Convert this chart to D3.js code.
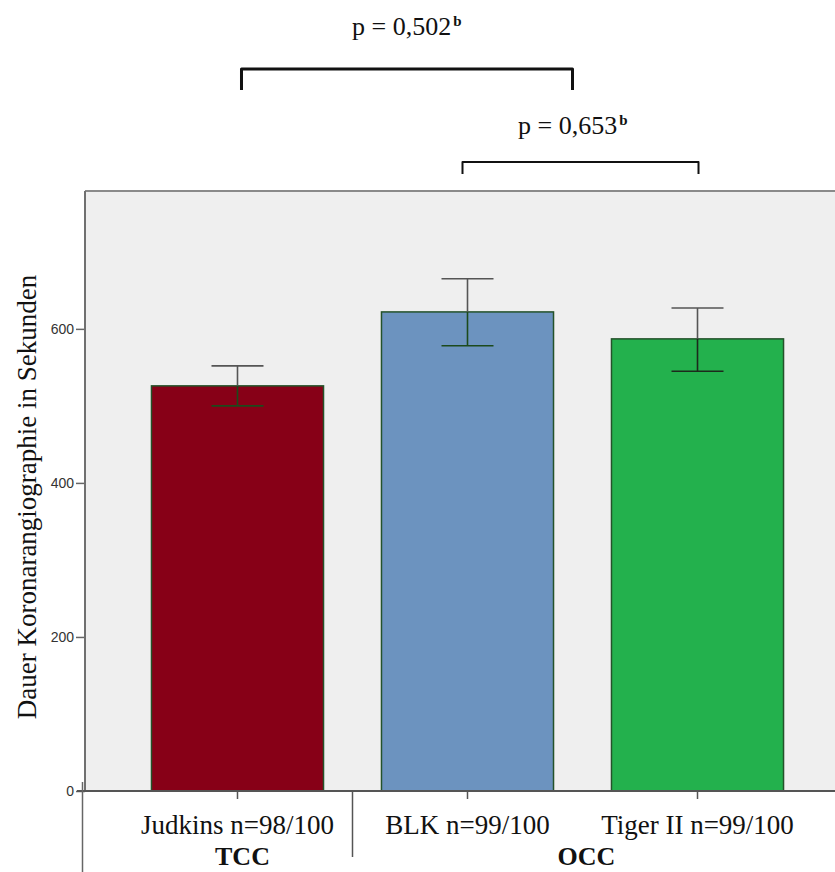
<!DOCTYPE html>
<html>
<head>
<meta charset="utf-8">
<script src="https://cdn.jsdelivr.net/npm/d3@7"></script>
<style>
  body { margin: 0; background: #fff; }
  svg { display: block; }
</style>
</head>
<body>
<div id="chart"></div>
<script>
// chart data
var categories = ["Judkins n=98/100", "BLK n=99/100", "Tiger II n=99/100"];
var meanValues = [526, 622, 587];
var lowerCI = [500, 578, 545];
var upperCI = [552, 665, 627];
var barColors = ["#870017", "#6c93bf", "#23b14d"];
var yTicks = [0, 200, 400, 600];
var groupLabels = ["TCC", "OCC"];
var pLabels = ["p = 0,502", "p = 0,653"];

var svgWidth = 835;
var svgHeight = 872;

var margin = { top: 191, right: -15, bottom: 81, left: 85 };

var data = categories.map(function(c, i) {
    return { cat: c, mean: meanValues[i], lo: lowerCI[i], hi: upperCI[i], color: barColors[i] };
});

var svg = d3.select("#chart")
    .append("svg")
    .attr("width", svgWidth)
    .attr("height", svgHeight);

// scales
var x = d3.scaleBand()
    .domain(categories)
    .range([margin.left, svgWidth - margin.right])
    .paddingInner(0.252)
    .paddingOuter(0.289);

var y = d3.scaleLinear()
    .domain([0, 779])
    .range([svgHeight - margin.bottom, margin.top]);

var y0 = y(0);

// plot background
svg.append("rect")
    .attr("x", margin.left)
    .attr("y", margin.top)
    .attr("width", svgWidth - margin.right - margin.left)
    .attr("height", y0 - margin.top)
    .attr("fill", "#efefef");

// top border
svg.append("line")
    .attr("x1", margin.left).attr("x2", svgWidth)
    .attr("y1", margin.top).attr("y2", margin.top)
    .attr("stroke", "#8a8a8a").attr("stroke-width", 2);

// bars
svg.selectAll("rect.bar")
    .data(data)
    .enter()
    .append("rect")
    .attr("class", "bar")
    .attr("x", d => x(d.cat))
    .attr("y", d => y(d.mean))
    .attr("width", x.bandwidth())
    .attr("height", d => y0 - y(d.mean))
    .attr("fill", d => d.color)
    .attr("stroke", "#24522a")
    .attr("stroke-width", 1.5);

// error bars
var capW = 26;
var err = svg.selectAll("g.err")
    .data(data)
    .enter()
    .append("g")
    .attr("class", "err")
    .attr("transform", d => `translate(${x(d.cat) + x.bandwidth() / 2},0)`);

err.append("line")
    .attr("y1", d => y(d.hi)).attr("y2", d => y(d.mean))
    .attr("stroke", "#555").attr("stroke-width", 1.6);
err.append("line")
    .attr("y1", d => y(d.mean)).attr("y2", d => y(d.lo))
    .attr("stroke", (d, i) => i == 2 ? "#1c2a1c" : "#1c4a1c").attr("stroke-width", 1.6);
err.append("line")
    .attr("x1", -capW).attr("x2", capW)
    .attr("y1", d => y(d.hi)).attr("y2", d => y(d.hi))
    .attr("stroke", "#555").attr("stroke-width", 1.6);
err.append("line")
    .attr("x1", -capW).attr("x2", capW)
    .attr("y1", d => y(d.lo)).attr("y2", d => y(d.lo))
    .attr("stroke", (d, i) => i == 2 ? "#1c2a1c" : "#1c4a1c").attr("stroke-width", 1.6);

// y axis
var leftAxis = d3.axisLeft(y)
    .tickValues(yTicks)
    .tickSize(9)
    .tickPadding(2)
    .tickFormat(d3.format("d"));

var yAxisG = svg.append("g")
    .attr("transform", `translate(${margin.left},0)`)
    .call(leftAxis);
yAxisG.select(".domain").remove();
yAxisG.selectAll(".tick line").attr("stroke", "#666").attr("stroke-width", 1.5);
yAxisG.selectAll(".tick text")
    .attr("fill", "#333")
    .style("font-family", "'Liberation Sans', Arial, sans-serif")
    .style("font-size", "14px");

// left border of plot
svg.append("line")
    .attr("x1", margin.left).attr("x2", margin.left)
    .attr("y1", margin.top).attr("y2", y0)
    .attr("stroke", "#707070").attr("stroke-width", 2);

// x axis
var bottomAxis = d3.axisBottom(x).tickSize(8).tickFormat("");
var xAxisG = svg.append("g")
    .attr("transform", `translate(0,${y0})`)
    .call(bottomAxis);
xAxisG.select(".domain").remove();
xAxisG.selectAll(".tick line").attr("stroke", "#555").attr("stroke-width", 1.5);

svg.append("line")
    .attr("x1", 77).attr("x2", svgWidth)
    .attr("y1", y0).attr("y2", y0)
    .attr("stroke", "#555").attr("stroke-width", 2);

// category group frame
svg.append("line")
    .attr("x1", 82.5).attr("x2", 82.5)
    .attr("y1", y0 - 9).attr("y2", svgHeight)
    .attr("stroke", "#666").attr("stroke-width", 1.5);

var sepX = (x(categories[0]) + x.bandwidth() + x(categories[1])) / 2;
svg.append("line")
    .attr("x1", sepX).attr("x2", sepX)
    .attr("y1", y0).attr("y2", y0 + 66)
    .attr("stroke", "#555").attr("stroke-width", 1.5);

var serif = "'Liberation Serif', 'Times New Roman', serif";

// category labels
svg.selectAll("text.cat")
    .data(categories)
    .enter()
    .append("text")
    .attr("class", "cat")
    .attr("x", d => x(d) + x.bandwidth() / 2)
    .attr("y", y0 + 43)
    .attr("text-anchor", "middle")
    .style("font-family", serif)
    .style("font-size", "27px")
    .attr("fill", "#111")
    .text(d => d);

// group labels
var c = categories.map(d => x(d) + x.bandwidth() / 2);
var groupX = [c[0] + 5, (c[1] + c[2]) / 2 + 4];
svg.selectAll("text.grp")
    .data(groupLabels)
    .enter()
    .append("text")
    .attr("class", "grp")
    .attr("x", (d, i) => groupX[i])
    .attr("y", y0 + 74)
    .attr("text-anchor", "middle")
    .style("font-family", serif)
    .style("font-size", "26px")
    .style("font-weight", "bold")
    .attr("fill", "#111")
    .text(d => d);

// y axis title
svg.append("text")
    .attr("transform", "rotate(-90)")
    .attr("x", -497)
    .attr("y", 36)
    .attr("text-anchor", "middle")
    .style("font-family", serif)
    .style("font-size", "27px")
    .attr("fill", "#111")
    .text("Dauer Koronarangiographie in Sekunden");

// significance brackets
var brackets = [
    { x1: c[0] + 4, x2: c[1] + 105, y: 69, leg: 21, w: 3, label: pLabels[0], lx: 352, ly: 35 },
    { x1: c[1] - 5, x2: c[2] + 1, y: 162, leg: 12, w: 2, label: pLabels[1], lx: 518, ly: 134 }
];

brackets.forEach(function(b) {
    svg.append("path")
        .attr("d", `M${b.x1},${b.y + b.leg}V${b.y}H${b.x2}V${b.y + b.leg}`)
        .attr("fill", "none")
        .attr("stroke", "#111")
        .attr("stroke-width", b.w)
        .attr("stroke-linejoin", "round");

    var t = svg.append("text")
        .attr("x", b.lx)
        .attr("y", b.ly)
        .style("font-family", serif)
        .style("font-size", "26px")
        .attr("fill", "#111");
    t.append("tspan").text(b.label);
    t.append("tspan")
        .attr("dy", -9)
        .attr("dx", 2)
        .style("font-size", "15px")
        .style("font-weight", "bold")
        .text("b");
});
</script>
</body>
</html>
